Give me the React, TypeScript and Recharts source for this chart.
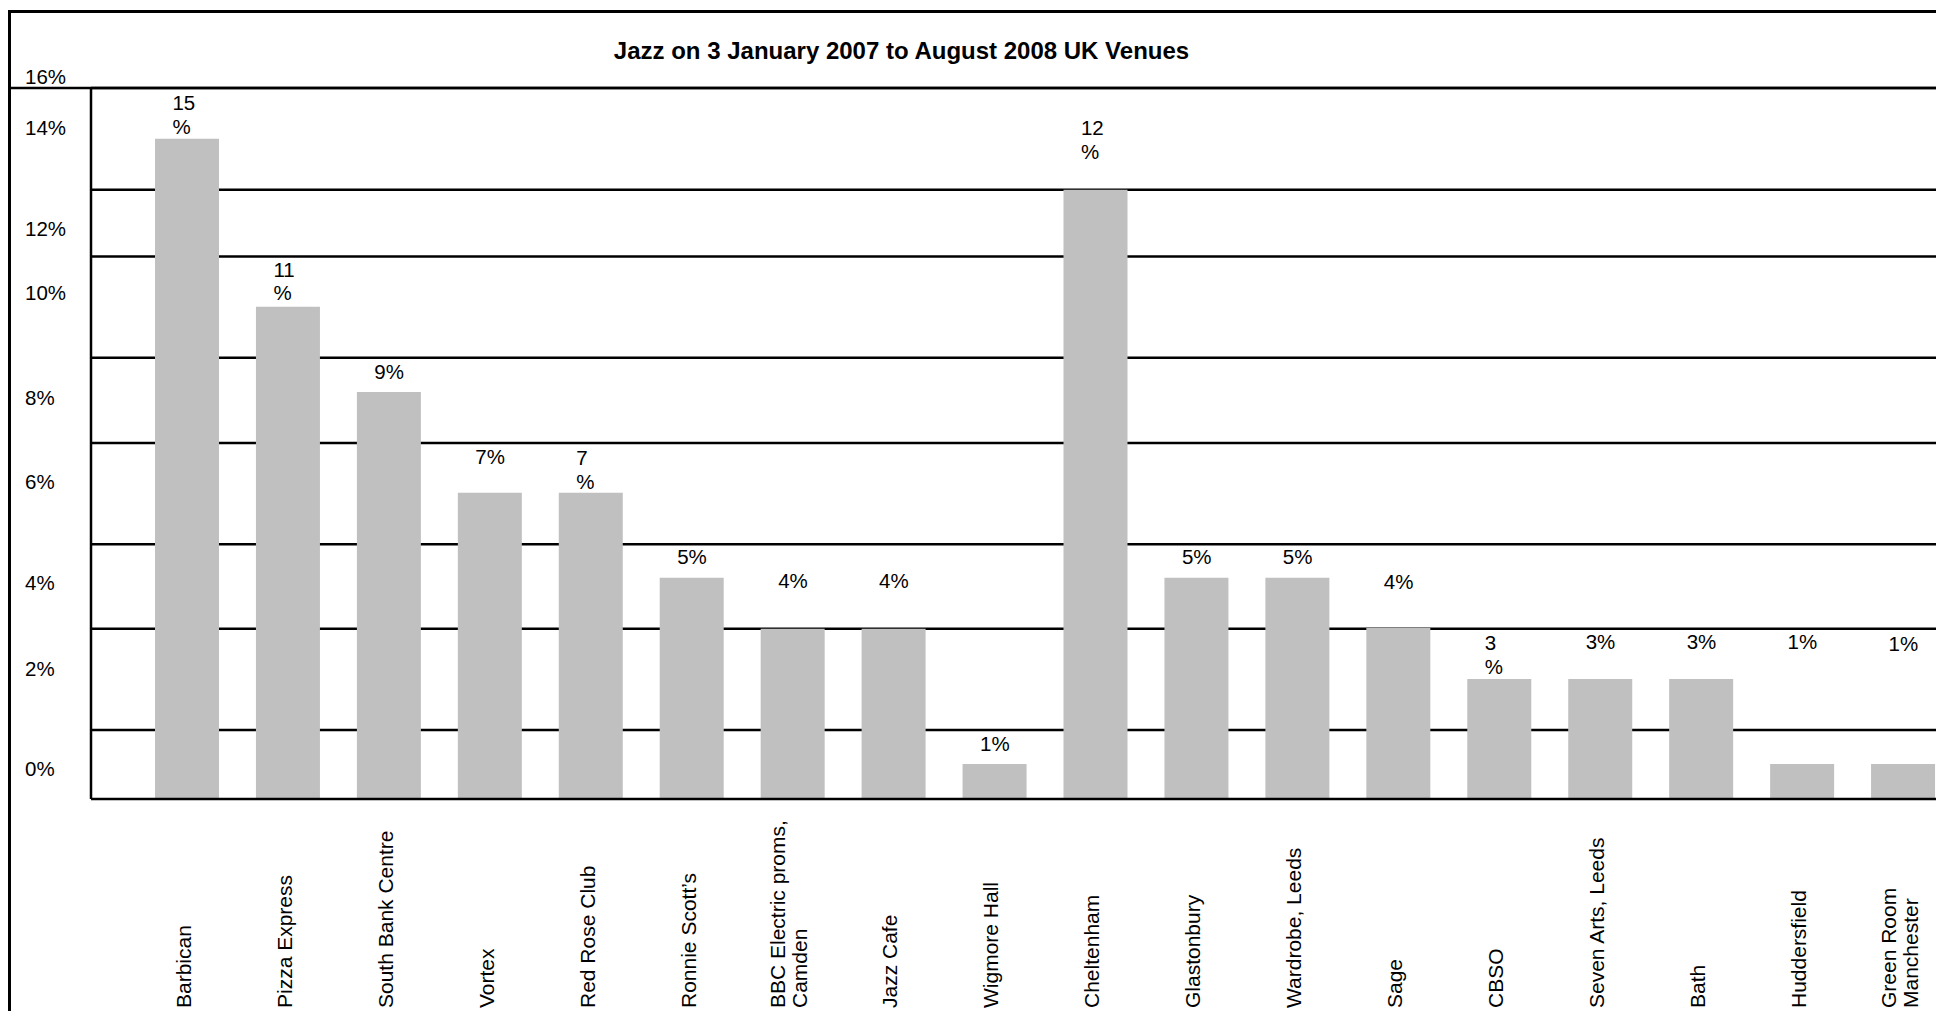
import {
  Bar,
  CartesianGrid,
  ComposedChart,
  LabelList,
  Line,
  ReferenceLine,
  XAxis,
  YAxis
} from "recharts";

const venues = [
  "Barbican",
  "Pizza Express",
  "South Bank Centre",
  "Vortex",
  "Red Rose Club",
  "Ronnie Scott’s",
  "BBC Electric proms,\nCamden",
  "Jazz Cafe",
  "Wigmore Hall",
  "Cheltenham",
  "Glastonbury",
  "Wardrobe, Leeds",
  "Sage",
  "CBSO",
  "Seven Arts, Leeds",
  "Bath",
  "Huddersfield",
  "Green Room\nManchester"
];

// bar heights (in %)
const shares = [14.86, 11.08, 9.16, 6.89, 6.89, 4.98, 3.83, 3.83, 0.79, 13.71, 4.98, 4.98, 3.85, 2.7, 2.7, 2.7, 0.79, 0.79];

// printed value labels (some wrap onto two lines in the original)
const shareLabels = ["15\n%", "11\n%", "9%", "7%", "7\n%", "5%", "4%", "4%", "1%", "12\n%", "5%", "5%", "4%", "3\n%", "3%", "3%", "1%", "1%"];

// level (in %) where each value label sits
const labelLevels = [15.13, 11.38, 9.62, 7.71, 7.14, 5.45, 4.9, 4.9, 1.25, 14.57, 5.45, 5.45, 4.88, 2.98, 3.54, 3.54, 3.54, 3.5];

// the horizontal rules of the original sheet
const gridLevels = [1.55, 3.83, 5.73, 8.01, 9.93, 12.21, 13.71, 16];

const yTickLabels = ["0%", "2%", "4%", "6%", "8%", "10%", "12%", "14%", "16%"];
const yTickLevels = [0.69, 2.94, 4.86, 7.14, 9.03, 11.38, 12.83, 15.1, 16.26];

const data = venues.map((name, i) => ({
  name,
  value: shares[i],
  labelAt: labelLevels[i],
  label: shareLabels[i]
}));

const FONT = "'Liberation Sans', Arial, Helvetica, sans-serif";
const FS = 20.5;

function PctTick(props: any) {
  const { y, payload } = props;
  const idx = yTickLevels.indexOf(payload.value);
  return (
    <text x={25} y={y} dy="0.35em" textAnchor="start" fontSize={FS} fontFamily={FONT} fill="#000">
      {yTickLabels[idx] ?? ""}
    </text>
  );
}

function VenueTick(props: any) {
  const { x, payload } = props;
  const lines = String(payload.value).split("\n");
  const base = 1008;
  return (
    <g>
      {lines.map((t, i) => {
        const cx = x - 4 + (i - (lines.length - 1) / 2) * 22;
        return (
          <text
            key={i}
            x={cx}
            y={base}
            dy="0.35em"
            textAnchor="start"
            transform={`rotate(-90, ${cx}, ${base})`}
            fontSize={21}
            fontFamily={FONT}
            fill="#000"
          >
            {t}
          </text>
        );
      })}
    </g>
  );
}

function ValueLabel(props: any) {
  const x = props.x ?? props.viewBox?.x;
  const y = props.y ?? props.viewBox?.y;
  if (x == null || y == null) return null;
  const lines = String(props.value).split("\n");
  return (
    <text fontSize={FS} fontFamily={FONT} fill="#000" textAnchor="start">
      {lines.map((t, i) => (
        <tspan key={i} x={x - 15} y={y - (lines.length - 1 - i) * 23.5} dy="0.35em">
          {t}
        </tspan>
      ))}
    </text>
  );
}

function gridFromScale({ yAxis }: any) {
  const s: any = yAxis?.scale;
  const f = typeof s === "function" ? s : s?.map?.bind(s);
  return f ? gridLevels.map((v) => f(v)) : [];
}

export default function App() {
  return (
    <div
      style={{
        position: "absolute",
        left: 0,
        top: 0,
        width: 1936,
        height: 1011,
        overflow: "hidden",
        background: "#fff",
        fontFamily: FONT
      }}
    >
      <div
        style={{
          position: "absolute",
          left: 8,
          top: 10,
          width: 2100,
          height: 1200,
          border: "3px solid #000",
          boxSizing: "border-box"
        }}
      />
      <div style={{ position: "absolute", left: 0, top: 0 }}>
        <ComposedChart
          width={1960}
          height={1011}
          data={data}
          margin={{ top: 88, right: 6, bottom: 0, left: 11 }}
        >
          <CartesianGrid
            vertical={false}
            stroke="#000"
            strokeWidth={2.5}
            horizontalCoordinatesGenerator={gridFromScale}
          />
          <XAxis
            dataKey="name"
            type="category"
            interval={0}
            height={212}
            padding={{ left: 46, right: 0 }}
            tickLine={false}
            axisLine={{ stroke: "#000", strokeWidth: 2.5 }}
            tick={<VenueTick />}
          />
          <YAxis
            type="number"
            domain={[0, 16]}
            allowDataOverflow
            ticks={yTickLevels}
            interval={0}
            width={80}
            tickLine={false}
            axisLine={{ stroke: "#000", strokeWidth: 2.5 }}
            tick={<PctTick />}
          />
          <Bar dataKey="value" fill="#C0C0C0" barSize={64} isAnimationActive={false} />
          <Line
            dataKey="labelAt"
            stroke="none"
            dot={false}
            activeDot={false}
            legendType="none"
            isAnimationActive={false}
          >
            <LabelList dataKey="label" content={<ValueLabel />} />
          </Line>
          <ReferenceLine
            y={16}
            shape={(p: any) => (
              <line x1={9} y1={p.y1} x2={p.x2} y2={p.y2} stroke="#000" strokeWidth={2.5} />
            )}
          />
        </ComposedChart>
      </div>
      <div
        style={{
          position: "absolute",
          left: 0,
          top: 39,
          width: 1803,
          textAlign: "center",
          fontSize: 24,
          lineHeight: "24px",
          fontWeight: "bold",
          color: "#000"
        }}
      >
        Jazz on 3 January 2007 to August 2008 UK Venues
      </div>
    </div>
  );
}
